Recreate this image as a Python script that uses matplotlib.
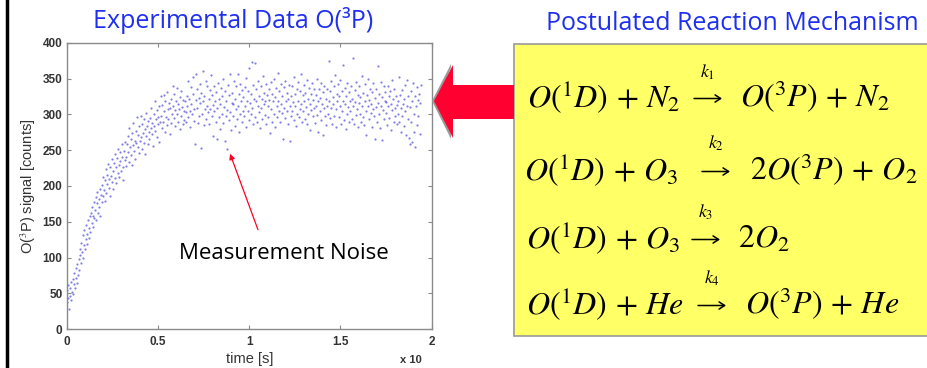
import numpy as np
import matplotlib
matplotlib.use("Agg")
import matplotlib.pyplot as plt
from matplotlib.patches import Polygon, Rectangle, FancyArrowPatch

# ---- measured O(3P) signal (counts), one sample per time step ----
t_end = 1.94
signal = [
    38, 55, 44, 62, 29, 47, 58, 41, 66, 52, 70, 49, 63, 78, 57, 72, 85, 64, 91, 76,
    98, 83, 112, 104, 92, 121, 108, 131, 99, 117, 138, 112, 126, 145, 119, 133, 152, 128, 141, 158,
    136, 162, 149, 171, 143, 158, 178, 155, 167, 184, 152, 176, 191, 163, 182, 170, 196, 158, 188, 177,
    201, 186, 212, 195, 179, 208, 224, 190, 215, 203, 231, 197, 210, 186, 226, 214, 238, 205, 221, 196,
    232, 211, 245, 226, 204, 239, 218, 252, 230, 213, 247, 235, 221, 258, 240, 226, 209, 249, 236, 262,
    241, 228, 259, 270, 247, 234, 281, 255, 243, 266, 229, 274, 257, 288, 249, 263, 238, 277, 260, 296,
    255, 271, 246, 284, 263, 298, 268, 252, 287, 274, 260, 293, 279, 245, 302, 270, 284, 258, 291, 276,
    266, 295, 281, 309, 272, 288, 256, 301, 284, 318, 277, 293, 269, 306, 287, 296, 262, 311, 289, 325,
    298, 281, 313, 290, 327, 304, 276, 318, 296, 285, 331, 307, 293, 316, 272, 309, 322, 288, 301, 340,
    312, 295, 328, 306, 284, 319, 301, 337, 290, 315, 308, 279, 324, 298, 333, 310, 287, 320, 305, 292,
    318, 303, 289, 326, 311, 347, 296, 322, 305, 283, 338, 314, 300, 329, 352, 308, 291, 259, 320, 356,
    335, 309, 288, 323, 298, 342, 316, 253, 330, 301, 361, 318, 285, 326, 307, 346, 294, 312, 339, 303,
    321, 286, 334, 308, 355, 297, 327, 313, 270, 340, 304, 318, 289, 331, 265, 309, 344, 296, 322, 279,
    314, 337, 301, 325, 288, 349, 310, 263, 332, 297, 319, 251, 306, 341, 292, 327, 356, 303, 278, 316,
    330, 298, 315, 346, 284, 322, 307, 339, 293, 357, 311, 276, 328, 300, 343, 318, 289, 334, 305, 324,
    297, 338, 312, 282, 351, 319, 304, 333, 292, 365, 316, 328, 300, 373, 309, 287, 341, 322, 296, 372,
    318, 335, 290, 312, 347, 303, 326, 281, 339, 309, 321, 294, 353, 315, 330, 299, 318, 342, 286, 327,
    311, 296, 336, 320, 274, 345, 307, 329, 290, 318, 350, 301, 324, 283, 337, 312, 296, 358, 319, 305,
    332, 289, 314, 343, 302, 326, 266, 338, 309, 295, 347, 318, 304, 330, 287, 321, 341, 263, 312, 298,
    325, 339, 305, 317, 292, 352, 311, 328, 284, 336, 300, 345, 319, 296, 333, 308, 357, 315, 289, 327,
    304, 341, 318, 293, 330, 310, 348, 286, 322, 301, 337, 315, 278, 329, 306, 344, 297, 320, 335, 309,
    288, 327, 312, 350, 299, 318, 276, 336, 305, 323, 292, 344, 315, 331, 271, 309, 340, 297, 322, 285,
    336, 312, 301, 375, 318, 295, 333, 309, 346, 287, 324, 314, 339, 298, 355, 307, 283, 329, 318, 342,
    296, 325, 311, 348, 287, 333, 305, 369, 319, 292, 337, 314, 280, 326, 301, 344, 310, 289, 331, 318,
    305, 339, 293, 322, 378, 311, 286, 334, 317, 299, 345, 308, 327, 282, 316, 340, 301, 324, 289, 353,
    312, 296, 330, 285, 318, 342, 305, 271, 327, 311, 349, 294, 320, 336, 302, 315, 283, 331, 308, 344,
    297, 323, 266, 310, 335, 289, 368, 316, 301, 328, 281, 345, 312, 264, 324, 306, 339, 294, 319, 331,
    302, 317, 285, 340, 311, 326, 295, 333, 278, 314, 348, 306, 321, 290, 336, 309, 297, 325, 313, 286,
    318, 301, 352, 290, 327, 309, 276, 334, 298, 315, 284, 322, 305, 341, 271, 312, 348, 294, 326, 267,
    310, 258, 333, 289, 319, 262, 344, 301, 276, 325, 255, 312, 338, 285, 320, 298, 329, 272, 316, 341,
]
time = np.linspace(0, t_end, len(signal))

x_ticks = [0, 0.5, 1, 1.5, 2]
x_tick_labels = ["0", "0.5", "1", "1.5", "2"]
y_ticks = [0, 50, 100, 150, 200, 250, 300, 350, 400]

# reaction steps: reactants, rate constant, products
reactants = [r"$O(^1D)\,+\,N_2$", r"$O(^1D)\,+\,O_3$", r"$O(^1D)\,+\,O_3$", r"$O(^1D)\,+\,He$"]
rate_labels = [r"$k_1$", r"$k_2$", r"$k_3$", r"$k_4$"]
products = [r"$O(^3P)\,+\,N_2$", r"$2O(^3P)\,+\,O_2$", r"$2O_2$", r"$O(^3P)\,+\,He$"]

W, H = 927, 368
plt.rcParams["mathtext.fontset"] = "stix"
fig = plt.figure(figsize=(W / 100, H / 100), dpi=100)


def fx(px):
    return px / W


def fy(py):
    return 1 - py / H


# left border line
fig.add_artist(plt.Line2D([fx(7), fx(7)], [0, 1], color="black", lw=2.5))

# ---- scatter panel ----
ax = fig.add_axes([fx(66.7), fy(329.3), (431.7 - 66.7) / W, (329.3 - 42.7) / H])
ax.scatter(time, signal, s=2.5, color="#4a4ad6", alpha=0.7, linewidths=0)
ax.set_xlim(0, 2)
ax.set_ylim(0, 400)
ax.set_xticks(x_ticks)
ax.set_xticklabels(x_tick_labels)
ax.set_yticks(y_ticks)
for s in ax.spines.values():
    s.set_color("#8a8a8a")
    s.set_linewidth(1.0)
ax.tick_params(direction="in", length=3, width=0.8, color="#8a8a8a",
               top=True, right=True, labelsize=8.5, labelcolor="#333333")
ax.tick_params(axis="x", pad=5)
ax.tick_params(axis="y", pad=3)
for lab in ax.get_xticklabels() + ax.get_yticklabels():
    lab.set_family("Liberation Sans")
    lab.set_fontweight("bold")
ax.set_xlabel("time [s]", fontsize=10.5, family="Liberation Sans", color="#333333", labelpad=3)
ax.set_ylabel(r"O($^3$P) signal [counts]", fontsize=10.5, family="Liberation Sans",
              color="#333333", labelpad=3)
fig.text(fx(411), fy(360), "x 10", fontsize=8, family="Liberation Sans",
         fontweight="bold", color="#333333", ha="center", va="center")

# annotation
ax.annotate("", xy=(0.895, 245), xytext=(1.048, 139),
            arrowprops=dict(arrowstyle="-|>", color="#ff0020", lw=0.9,
                            mutation_scale=8, shrinkA=0, shrinkB=0))
ax.text(1.188, 106, "Measurement Noise", fontsize=16, family="Open Sans",
        ha="center", va="center", color="black")

# titles
fig.text(fx(233), fy(21), "Experimental Data O(\u00b3P)", fontsize=18, family="Open Sans",
         color="#1f2ff0", ha="center", va="center")
fig.text(fx(732), fy(23), "Postulated Reaction Mechanism", fontsize=18, family="Open Sans",
         color="#1f2ff0", ha="center", va="center")

# ---- mechanism box ----
fig.add_artist(Rectangle((fx(514), fy(336)), fx(930 - 514), (336 - 44) / H,
                         facecolor="#ffff66", edgecolor="#9a9a9a", lw=1.2,
                         transform=fig.transFigure))

# red arrow pointing at the data
shadow = [(432, 101), (451, 64), (451, 68), (436, 101), (451, 134), (451, 139)]
fig.add_artist(Polygon([(fx(x), fy(y)) for x, y in shadow], closed=True,
                       facecolor="#9a9a9a", edgecolor="none", transform=fig.transFigure))
arrow = [(434, 101), (453, 65), (453, 85), (514, 85), (514, 119), (453, 119), (453, 138)]
fig.add_artist(Polygon([(fx(x), fy(y)) for x, y in arrow], closed=True,
                       facecolor="#ff0030", edgecolor="none", transform=fig.transFigure))

baselines = [107, 180, 248, 314]
left_x = [527, 524, 526, 526]
arrow_x = [708, 716, 706, 712]
right_x = [740, 750, 738, 745]
k_y = [72, 143, 212, 278]
for i in range(4):
    yb = baselines[i]
    fig.text(fx(left_x[i]), fy(yb), reactants[i], fontsize=23, ha="left", va="baseline")
    fig.add_artist(FancyArrowPatch((fx(arrow_x[i] - 14), fy(yb - 8.5)),
                                   (fx(arrow_x[i] + 14), fy(yb - 8.5)),
                                   transform=fig.transFigure,
                                   arrowstyle="->,head_length=4,head_width=2.6",
                                   color="black", lw=1.1, shrinkA=0, shrinkB=0))
    fig.text(fx(right_x[i]), fy(yb), products[i], fontsize=23, ha="left", va="baseline")
    fig.text(fx(arrow_x[i]), fy(k_y[i]), rate_labels[i], fontsize=13, ha="center", va="center")

fig.savefig("out.png", dpi=100)
